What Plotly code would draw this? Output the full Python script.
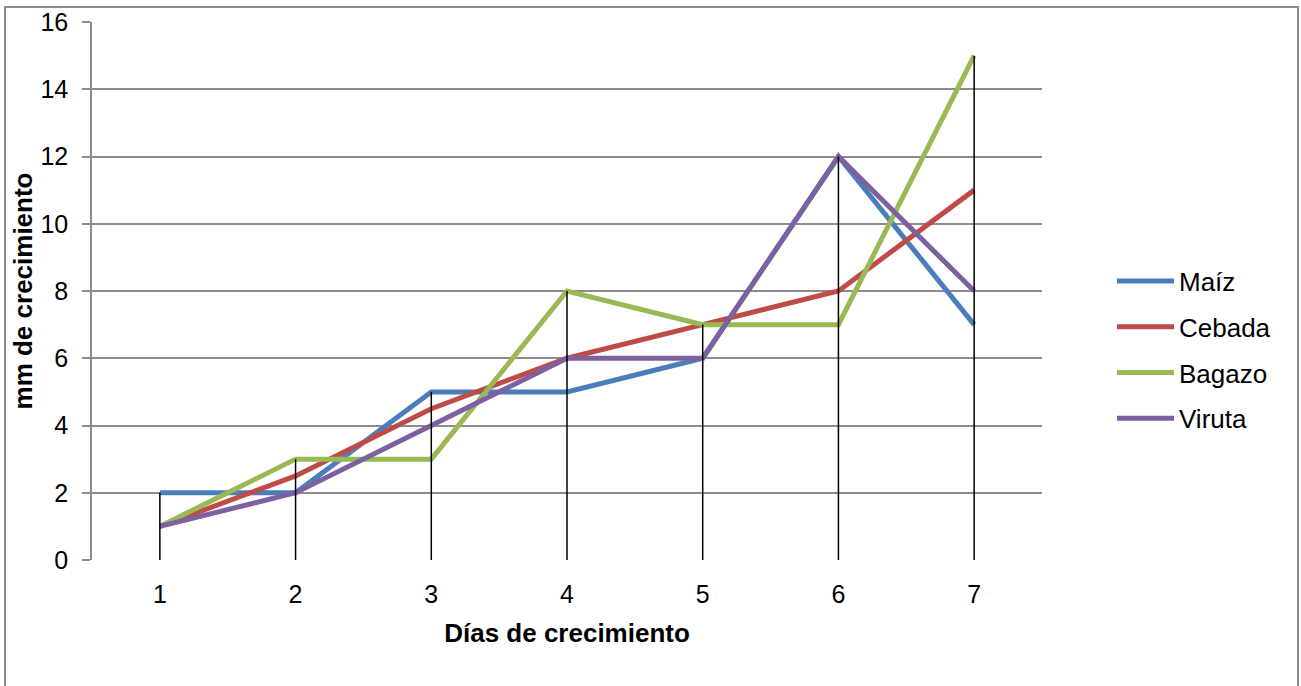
import plotly.graph_objects as go

# Days of growth and measured growth (mm) per substrate
dias = [1, 2, 3, 4, 5, 6, 7]
maiz = [2, 2, 5, 5, 6, 12, 7]
cebada = [1, 2.5, 4.5, 6, 7, 8, 11]
bagazo = [1, 3, 3, 8, 7, 7, 15]
viruta = [1, 2, 4, 6, 6, 12, 8]

series = [
    ("Maíz", maiz, "#4A7EBB"),
    ("Cebada", cebada, "#BE4B48"),
    ("Bagazo", bagazo, "#98B954"),
    ("Viruta", viruta, "#7D60A0"),
]

W, H = 1301, 686
L, R, T, B = 92, 259, 22, 126
pw, ph = W - L - R, H - T - B

fig = go.Figure()
for name, vals, color in series:
    fig.add_trace(go.Scatter(
        x=dias, y=vals, name=name, mode="lines", legendgroup=name,
        line=dict(color=color, width=5),
    ))

# Drop lines from the highest value on each day down to the axis
tops = [max(v) for v in zip(maiz, cebada, bagazo, viruta)]
dx, dy = [], []
for d, t in zip(dias, tops):
    dx += [d, d, None]
    dy += [0, t, None]
fig.add_trace(go.Scatter(
    x=dx, y=dy, mode="lines", showlegend=False, hoverinfo="skip",
    line=dict(color="black", width=1.5),
))

font = "Liberation Sans, Arial, sans-serif"

# Outer chart frame
fx0 = (5 - L) / pw
fx1 = (1298 - L) / pw
fy1 = (H - B - 7) / ph
fy0 = -(B + 10) / ph
fig.add_shape(type="rect", xref="paper", yref="paper",
              x0=fx0, x1=fx1, y0=fy0, y1=fy1,
              line=dict(color="#8C8C8C", width=2), layer="below")

fig.update_layout(
    width=W, height=H,
    margin=dict(l=L, r=R, t=T, b=B, autoexpand=False),
    paper_bgcolor="white", plot_bgcolor="white",
    font=dict(family=font, size=25, color="black"),
    showlegend=True,
    legend=dict(
        x=(1112 - L) / pw, y=(H - B - 350) / ph, xanchor="left", yanchor="middle",
        font=dict(size=26), itemwidth=57, tracegroupgap=9,
        bgcolor="rgba(0,0,0,0)",
    ),
    xaxis=dict(
        range=[0.5, 7.5], tickmode="array", tickvals=dias,
        ticktext=[str(d) for d in dias], automargin=False,
        showgrid=False, zeroline=False, showline=False,
        ticks="", tickfont=dict(size=25), ticklabelstandoff=17,
        title=dict(text="<b>Días de crecimiento</b>", font=dict(size=26), standoff=16),
    ),
    yaxis=dict(
        range=[0, 16], tickmode="linear", dtick=2, automargin=False,
        showgrid=True, gridcolor="#8C8C8C", gridwidth=1.5,
        zeroline=False, showline=True, linecolor="#8C8C8C", linewidth=1.5,
        ticks="outside", ticklen=8, tickcolor="#8C8C8C", tickwidth=1.5,
        tickfont=dict(size=25), ticklabelstandoff=9,
        title=dict(text="<b>mm de crecimiento</b>", font=dict(size=26), standoff=0),
    ),
)

fig.write_html("out.html")
